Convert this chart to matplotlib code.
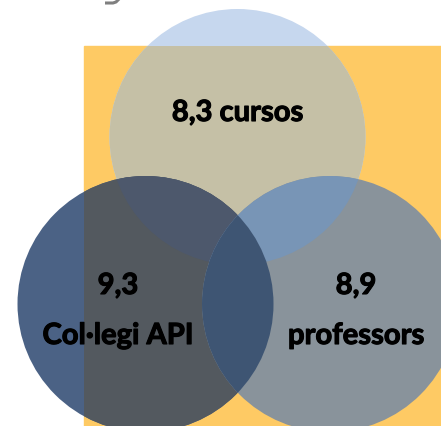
import matplotlib.pyplot as plt
import matplotlib.patheffects as pe
from matplotlib.patches import Circle, Rectangle

# values shown in the venn
scores = ["8,3", "9,3", "8,9"]
groups = ["cursos", "Col·legi API", "professors"]

# layout in pixels (figure is 441 x 427)
W, H = 441, 427
centers = [(237.5, 138), (145.5, 305), (330, 305)]
radius = 128

fig = plt.figure(figsize=(W / 100, H / 100), dpi=100)
ax = fig.add_axes([0, 0, 1, 1])
ax.set_xlim(0, W)
ax.set_ylim(H, 0)
ax.set_aspect("equal")
ax.axis("off")

# yellow backdrop
rect = Rectangle((84, 46.5), W - 84, H - 46.5, color="#feca64", zorder=1)
ax.add_patch(rect)

def circ(i, color, z, clip=None):
    c = Circle(centers[i], radius, color=color, lw=0, zorder=z)
    ax.add_patch(c)
    if clip is not None:
        c.set_clip_path(clip)
    return c

top = circ(0, "#c6d7ee", 2)
circ(0, "#c5c0a6", 3, clip=rect)
left = circ(1, "#4b6285", 4)
circ(1, "#53595f", 5, clip=rect)
right = circ(2, "#89939b", 6)

# overlaps
circ(0, "#4d586c", 7, clip=left)
circ(0, "#7895b6", 7, clip=right)
circ(1, "#3e5573", 8, clip=right)

font = dict(family=["Lato", "DejaVu Sans"], fontweight="bold", fontsize=21,
            color="black", ha="center", va="baseline", zorder=10,
            path_effects=[pe.withStroke(linewidth=0.8, foreground="black")])

ax.text(237.5, 122, f"{scores[0]} {groups[0]}", **font)
ax.text(118, 295, scores[1], **font)
ax.text(118, 345, groups[1], **font)
ax.text(356, 295, scores[2], **font)
ax.text(356, 345, groups[2], **font)

# bit of a cut-off grey hook at the top edge
ax.plot([105, 113, 116, 119], [4, 4, 3, 0], color="#7f7f7f", lw=2.2,
        solid_capstyle="butt", zorder=10)

fig.savefig("out.png", dpi=100)
